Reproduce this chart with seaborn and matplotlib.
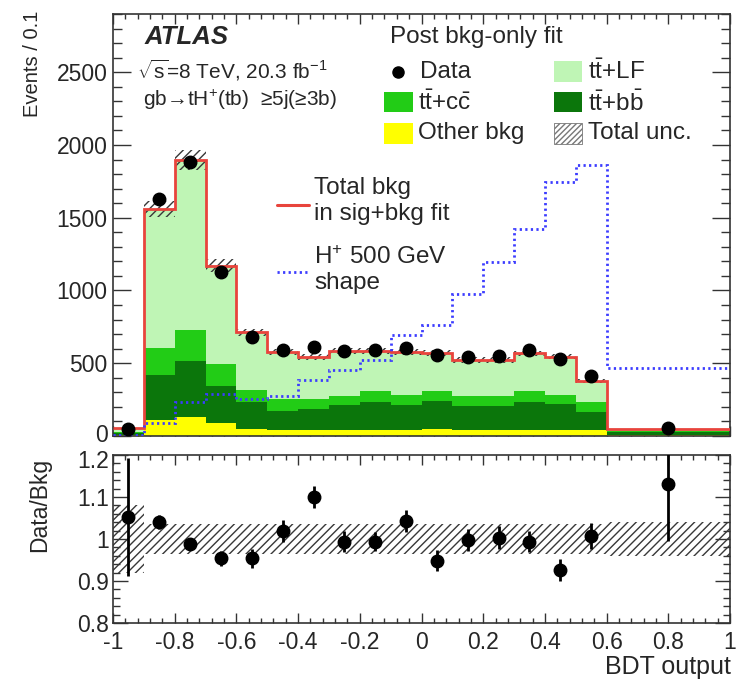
import numpy as np
import pandas as pd
import matplotlib
matplotlib.use("Agg")
import matplotlib.pyplot as plt
import seaborn as sns
from matplotlib.patches import Rectangle
from matplotlib.lines import Line2D
from matplotlib.ticker import MultipleLocator, FuncFormatter
from matplotlib.transforms import ScaledTranslation

# ---------------- data ----------------
bin_edges = [-1.0, -0.9, -0.8, -0.7, -0.6, -0.5, -0.4, -0.3, -0.2, -0.1,
             0.0, 0.1, 0.2, 0.3, 0.4, 0.5, 0.6, 1.0]
bin_centers = [-0.95, -0.85, -0.75, -0.65, -0.55, -0.45, -0.35, -0.25, -0.15,
               -0.05, 0.05, 0.15, 0.25, 0.35, 0.45, 0.55, 0.8]

components = ["ttLF", "ttcc", "ttbb", "other"]
tt_lf = [26, 957, 1170, 675, 396, 321, 286, 305, 275, 293, 258, 245, 245, 255, 261, 144, 13]
tt_cc = [8, 181, 215, 149, 85, 80, 68, 62, 76, 69, 73, 69, 75, 75, 64, 64, 10]
tt_bb = [12, 311, 380, 257, 183, 137, 149, 178, 194, 176, 190, 167, 161, 197, 181, 126, 20]
other_bkg = [8, 111, 134, 90, 49, 38, 38, 38, 38, 40, 49, 42, 42, 40, 40, 42, 6]

total_sigbkg_fit = [54, 1560, 1899, 1171, 713, 576, 541, 583, 583, 578, 570, 523, 523, 567, 546, 376, 49]
hplus_shape = [4, 88, 232, 290, 255, 272, 386, 455, 523, 697, 766, 977, 1199, 1423, 1743, 1865, 468]
data_events = [50, 1629, 1880, 1125, 683, 592, 610, 587, 592, 606, 560, 541, 553, 594, 528, 411, 56]
unc_frac = [0.08, 0.036, 0.036, 0.036, 0.036, 0.036, 0.036, 0.036, 0.036,
            0.036, 0.036, 0.036, 0.036, 0.036, 0.036, 0.036, 0.04]

ratio_vals = [1.052, 1.041, 0.988, 0.954, 0.954, 1.020, 1.100, 0.994, 0.994,
              1.043, 0.948, 0.998, 1.003, 0.994, 0.926, 1.007, 1.131]
ratio_errs = [0.14, 0.016, 0.015, 0.018, 0.022, 0.026, 0.027, 0.024, 0.023,
              0.026, 0.025, 0.026, 0.027, 0.026, 0.027, 0.030, 0.135]

y_ticks_main = [0, 500, 1000, 1500, 2000, 2500]
x_ticks = [-1, -0.8, -0.6, -0.4, -0.2, 0, 0.2, 0.4, 0.6, 0.8, 1]
y_ticks_ratio = [0.8, 0.9, 1.0, 1.1, 1.2]

# ---------------- style ----------------
sns.set_style("ticks")
plt.rcParams["font.family"] = ["Liberation Sans", "DejaVu Sans"]
plt.rcParams["mathtext.fontset"] = "custom"
plt.rcParams["mathtext.rm"] = "Liberation Sans"
plt.rcParams["mathtext.it"] = "Liberation Sans:italic"
plt.rcParams["mathtext.bf"] = "Liberation Sans:bold"
plt.rcParams["mathtext.sf"] = "Liberation Sans"
plt.rcParams["hatch.linewidth"] = 1.0

C_LF = "#bff5b5"
C_CC = "#22cc16"
C_BB = "#0b760b"
C_OT = "#ffff00"
C_RED = "#e8443c"
C_BLUE = "#3c3cff"
C_HATCH = "#383838"
SPINE = "#333333"

W, H = 738, 682
fig = plt.figure(figsize=(W / 100, H / 100), dpi=100)


def P(x, y):
    return (x / W, 1 - y / H)


ax = fig.add_axes([113 / W, 1 - 436 / H, 617 / W, 422 / H])
rax = fig.add_axes([113 / W, 1 - 623 / H, 617 / W, 168 / H])

# ---------------- stacked background ----------------
rows = []
for comp, vals in zip(components, [tt_lf, tt_cc, tt_bb, other_bkg]):
    for xc, v in zip(bin_centers, vals):
        rows.append({"x": xc, "w": v, "comp": comp})
df = pd.DataFrame(rows)
palette = {"ttLF": C_LF, "ttcc": C_CC, "ttbb": C_BB, "other": C_OT}
sns.histplot(data=df, x="x", weights="w", hue="comp", hue_order=components,
             palette=palette, bins=bin_edges, multiple="stack", element="step",
             fill=True, alpha=1, linewidth=0, legend=False, ax=ax)

widths = np.diff(bin_edges)
stack_tot = np.array(tt_lf) + np.array(tt_cc) + np.array(tt_bb) + np.array(other_bkg)
unc_abs = stack_tot * np.array(unc_frac)
ax.bar(bin_edges[:-1], 2 * unc_abs, width=widths, bottom=stack_tot - unc_abs,
       align="edge", fill=False, hatch="////", edgecolor=C_HATCH, linewidth=0, zorder=3)

ax.stairs(total_sigbkg_fit, bin_edges, color=C_RED, linewidth=2.0, baseline=None, zorder=4)
ax.stairs(hplus_shape, bin_edges, color=C_BLUE, linewidth=2.0, baseline=None,
          linestyle=(0, (0.8, 1.2)), zorder=4)

ax.plot(bin_centers, data_events, "o", color="black", markersize=9, zorder=5)

ax.set_xlim(-1, 1)
ax.set_ylim(0, 2900)
ax.set_xlabel("")
ax.set_ylabel("")
ax.set_yticks(y_ticks_main)
ax.yaxis.set_minor_locator(MultipleLocator(100))
ax.set_xticks(x_ticks)
ax.xaxis.set_minor_locator(MultipleLocator(0.04))
ax.tick_params(axis="x", labelbottom=False)
ax.tick_params(which="both", direction="in", top=True, right=True, width=1.0, color=SPINE)
ax.tick_params(axis="y", which="major", length=13, labelsize=16.5, pad=4)
ax.tick_params(axis="y", which="minor", length=6.5)
ax.tick_params(axis="x", which="major", length=7)
ax.tick_params(axis="x", which="minor", length=3.5)
for s in ax.spines.values():
    s.set_color(SPINE)
    s.set_linewidth(1.2)
    s.set_visible(True)

# ---------------- ratio panel ----------------
rax.bar(bin_edges[:-1], 2 * np.array(unc_frac), width=widths, bottom=1 - np.array(unc_frac),
        align="edge", fill=False, hatch="////", edgecolor=C_HATCH, linewidth=0, zorder=2)
rax.errorbar(bin_centers, ratio_vals, yerr=ratio_errs, fmt="o", color="black",
             markersize=9, elinewidth=2, capsize=0, zorder=4)
rax.set_xlim(-1, 1)
rax.set_ylim(0.8, 1.2)
rax.set_yticks(y_ticks_ratio)
rax.yaxis.set_minor_locator(MultipleLocator(0.02))
rax.set_xticks(x_ticks)
rax.xaxis.set_minor_locator(MultipleLocator(0.04))
fmt = FuncFormatter(lambda v, p: "%g" % round(v, 2))
rax.xaxis.set_major_formatter(fmt)
rax.yaxis.set_major_formatter(fmt)
rax.tick_params(which="both", direction="in", top=True, right=True, width=1.0, color=SPINE)
rax.tick_params(axis="y", which="major", length=11, labelsize=16.5, pad=3)
rax.tick_params(axis="y", which="minor", length=5)
rax.tick_params(axis="x", which="major", length=7, labelsize=16.5, pad=6)
rax.tick_params(axis="x", which="minor", length=3.5)
for s in rax.spines.values():
    s.set_color(SPINE)
    s.set_linewidth(1.2)
    s.set_visible(True)

# nudge the two adjacent labels ("0" of the main panel, "1.2" of the ratio panel) apart
fig.canvas.draw()
t0 = ax.yaxis.get_major_ticks()[0].label1
t0.set_transform(t0.get_transform() + ScaledTranslation(0, 3.5 / 100, fig.dpi_scale_trans))
t1 = rax.yaxis.get_major_ticks()[-1].label1
t1.set_transform(t1.get_transform() + ScaledTranslation(0, -3.5 / 100, fig.dpi_scale_trans))

# ---------------- labels ----------------
fig.text(*P(33, 11), "Events / 0.1", rotation=90, ha="center", va="top", fontsize=14.5)
fig.text(*P(40, 505), "Data/Bkg", rotation=90, ha="center", va="center", fontsize=16.5)
fig.text(*P(731, 667), "BDT output", ha="right", va="center", fontsize=18)

fig.text(*P(145, 37), "ATLAS", fontsize=18.5, fontweight="bold", fontstyle="italic", va="center")
fig.text(*P(137, 70), r"$\sqrt{\mathrm{s}}$=8 TeV, 20.3 fb$^{-1}$", fontsize=15, va="center")
fig.text(*P(143, 100), "gb\u2192tH$^{+}$(tb)  \u22655j(\u22653b)", fontsize=15, va="center")

# ---------------- legend (manual) ----------------
fig.text(*P(390, 37), "Post bkg-only fit", fontsize=17.5, va="center")
leg_fs = 17.5


def box(x0, y0, x1, y1, **kw):
    fx0, fy1 = P(x0, y1)
    r = Rectangle((fx0, fy1), (x1 - x0) / W, (y1 - y0) / H, transform=fig.transFigure, **kw)
    fig.add_artist(r)


fig.add_artist(Line2D([P(398, 72)[0]], [P(398, 72)[1]], marker="o", color="black",
                      markersize=8, transform=fig.transFigure))
fig.text(*P(420, 72), "Data", fontsize=leg_fs, va="center")
box(554, 61, 582, 82, facecolor=C_LF, edgecolor="none")
fig.text(*P(588, 72), r"$\mathrm{t\bar{t}}$+LF", fontsize=leg_fs, va="center")
box(384, 92, 413, 112, facecolor=C_CC, edgecolor="none")
fig.text(*P(418, 103), r"$\mathrm{t\bar{t}}$+$\mathrm{c\bar{c}}$", fontsize=leg_fs, va="center")
box(554, 92, 582, 112, facecolor=C_BB, edgecolor="none")
fig.text(*P(588, 103), r"$\mathrm{t\bar{t}}$+$\mathrm{b\bar{b}}$", fontsize=leg_fs, va="center")
box(384, 123, 413, 144, facecolor=C_OT, edgecolor="none")
fig.text(*P(418, 133), "Other bkg", fontsize=leg_fs, va="center")
box(554, 123, 582, 144, facecolor="white", edgecolor="#777777", hatch="//////", linewidth=0.6)
fig.text(*P(588, 133), "Total unc.", fontsize=leg_fs, va="center")

fig.add_artist(Line2D([P(277, 0)[0], P(309, 0)[0]], [P(0, 205)[1]] * 2, color=C_RED,
                      linewidth=2.2, transform=fig.transFigure))
fig.text(*P(314, 188), "Total bkg", fontsize=leg_fs, va="center")
fig.text(*P(314, 214), "in sig+bkg fit", fontsize=leg_fs, va="center")
fig.add_artist(Line2D([P(277, 0)[0], P(309, 0)[0]], [P(0, 272)[1]] * 2, color=C_BLUE,
                      linewidth=2.0, linestyle=(0, (0.8, 1.2)), transform=fig.transFigure))
fig.text(*P(314, 258), r"H$^{+}$ 500 GeV", fontsize=leg_fs, va="center")
fig.text(*P(314, 283), "shape", fontsize=leg_fs, va="center")

fig.savefig("out.png", dpi=100)
